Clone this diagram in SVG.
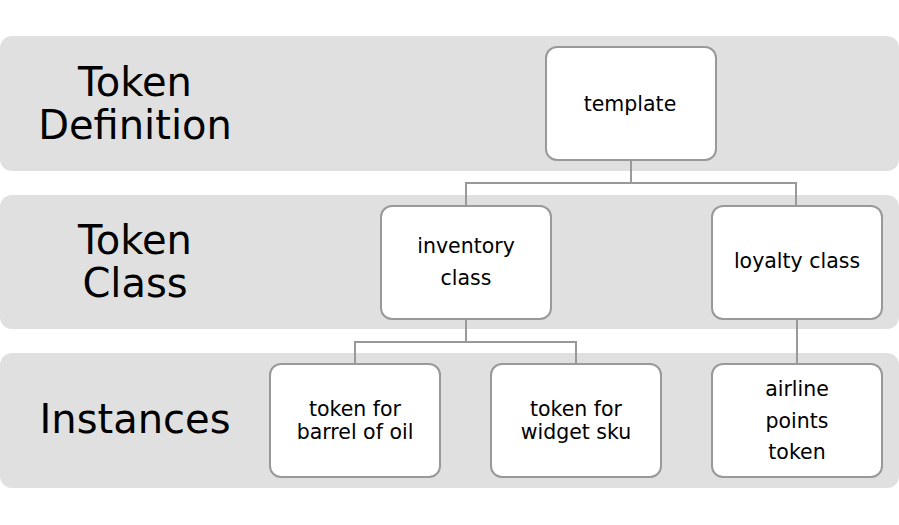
<svg xmlns="http://www.w3.org/2000/svg" width="899" height="525" viewBox="0 0 899 525">
<style>
.band{fill:#e0e0e0;}
.node{fill:#ffffff;stroke:#999999;stroke-width:2;}
.lbl{font-family:"DejaVu Sans",Verdana,sans-serif;font-size:40px;fill:#000;text-anchor:middle;}
.txt{font-family:"DejaVu Sans",Verdana,sans-serif;font-size:20.5px;fill:#000;text-anchor:middle;}
.conn{fill:none;stroke:#999999;stroke-width:2;}
</style>
<rect width="899" height="525" fill="#ffffff"/>
<g id="band-definition">
<rect class="band" x="0" y="36" width="899" height="135" rx="12"/>
<text class="lbl" x="135" y="96">Token</text>
<text class="lbl" x="135" y="139">Definition</text>
</g>
<g id="band-class">
<rect class="band" x="0" y="195" width="899" height="134" rx="12"/>
<text class="lbl" x="135" y="254">Token</text>
<text class="lbl" x="135" y="297">Class</text>
</g>
<g id="band-instances">
<rect class="band" x="0" y="353" width="899" height="135" rx="12"/>
<text class="lbl" x="135" y="433">Instances</text>
</g>
<g id="connectors">
<path class="conn" d="M631,161 V183 H466 V206"/>
<path class="conn" d="M631,183 H796 V206"/>
<path class="conn" d="M466,319 V342 H355 V364"/>
<path class="conn" d="M466,342 H576 V364"/>
<path class="conn" d="M797,319 V364"/>
</g>
<g id="node-template">
<rect class="node" x="546" y="47" width="170" height="113" rx="11"/>
<text class="txt" x="630" y="111">template</text>
</g>
<g id="node-inventory-class">
<rect class="node" x="381" y="206" width="170" height="113" rx="11"/>
<text class="txt" x="466" y="253">inventory</text>
<text class="txt" x="466" y="285">class</text>
</g>
<g id="node-loyalty-class">
<rect class="node" x="712" y="206" width="170" height="113" rx="11"/>
<text class="txt" x="797" y="268">loyalty class</text>
</g>
<g id="node-barrel">
<rect class="node" x="270" y="364" width="170" height="113" rx="11"/>
<text class="txt" x="355" y="416">token for</text>
<text class="txt" x="355" y="439">barrel of oil</text>
</g>
<g id="node-widget">
<rect class="node" x="491" y="364" width="170" height="113" rx="11"/>
<text class="txt" x="576" y="416">token for</text>
<text class="txt" x="576" y="439">widget sku</text>
</g>
<g id="node-airline">
<rect class="node" x="712" y="364" width="170" height="113" rx="11"/>
<text class="txt" x="797" y="396">airline</text>
<text class="txt" x="797" y="428">points</text>
<text class="txt" x="797" y="459">token</text>
</g>
</svg>
